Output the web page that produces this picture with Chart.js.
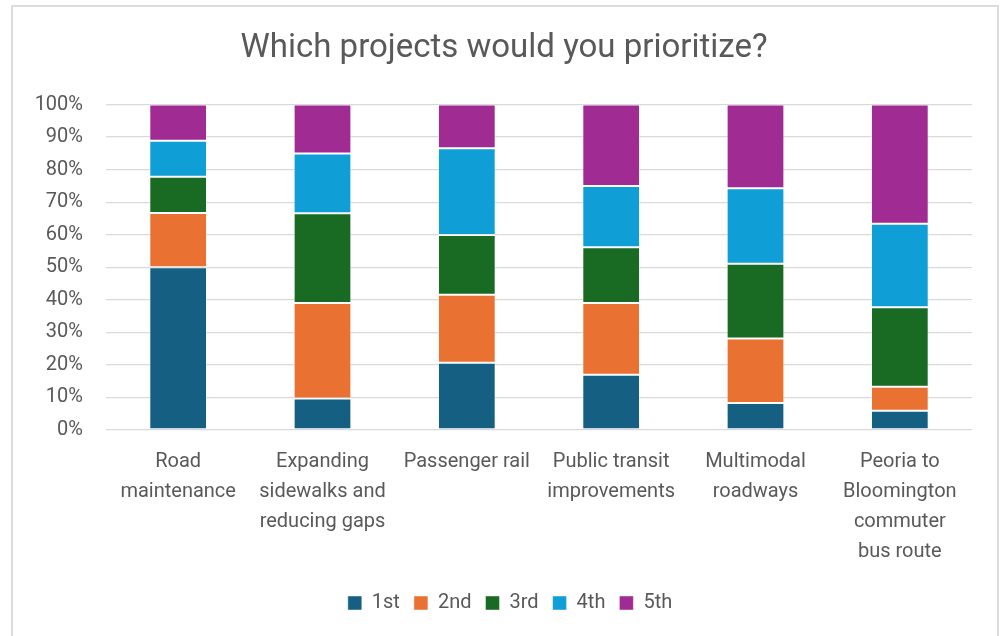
<!DOCTYPE html>
<html>
<head>
<meta charset="utf-8">
<title>Which projects would you prioritize?</title>
<script src="https://cdn.jsdelivr.net/npm/chart.js@4.4.1/dist/chart.umd.min.js"></script>
<style>
  html, body { margin: 0; padding: 0; background: #fff; }
  #wrap { position: relative; width: 1004px; height: 636px; overflow: hidden; }
  #frame {
    position: absolute; left: 11px; top: 5px; width: 988px; height: 660px;
    border: 2px solid #dcdcdc; box-sizing: border-box;
  }
  #chart { position: absolute; left: 0; top: 0; }
</style>
</head>
<body>
<div id="wrap">
  <div id="frame"></div>
  <canvas id="chart" width="1004" height="636"></canvas>
</div>
<script>
// -------- data --------
const projects = [
  ['Road', 'maintenance'],
  ['Expanding', 'sidewalks and', 'reducing gaps'],
  ['Passenger rail'],
  ['Public transit', 'improvements'],
  ['Multimodal', 'roadways'],
  ['Peoria to', 'Bloomington', 'commuter', 'bus route']
];

// share of respondents (%) ranking each project 1st..5th
const rank1 = [50.0,  9.7, 20.7, 17.0,  8.3,  5.9];
const rank2 = [16.7, 29.3, 20.9, 22.0, 19.8,  7.4];
const rank3 = [11.1, 27.6, 18.3, 17.2, 23.0, 24.4];
const rank4 = [11.1, 18.4, 26.7, 18.8, 23.2, 25.7];
const rank5 = [11.1, 15.0, 13.4, 25.0, 25.7, 36.6];

const rankNames  = ['1st', '2nd', '3rd', '4th', '5th'];
const rankColors = ['#156082', '#E97132', '#196B24', '#0F9ED5', '#A02B93'];
const yTicks = [0, 10, 20, 30, 40, 50, 60, 70, 80, 90, 100];

// -------- chart --------
const TEXT = '#595959';
const FONT = 'Roboto, "Liberation Sans", sans-serif';

const datasets = [rank1, rank2, rank3, rank4, rank5].map((vals, i) => ({
  label: rankNames[i],
  data: vals,
  backgroundColor: rankColors[i],
  borderColor: 'rgba(255,255,255,0.45)',
  borderWidth: 1,
  borderSkipped: false,
  barPercentage: 0.4,
  categoryPercentage: 1.0
}));

// nudge the legend a little right of the layout centre
const legendNudge = {
  id: 'legendNudge',
  afterLayout(chart) {
    const lg = chart.legend;
    if (!lg) return;
    lg.left += 6;
    lg.right += 6;
  }
};

new Chart(document.getElementById('chart'), {
  type: 'bar',
  data: { labels: projects, datasets },
  plugins: [legendNudge],
  options: {
    responsive: false,
    animation: false,
    layout: { padding: { left: 36, right: 32, top: 0, bottom: 13 } },
    plugins: {
      title: {
        display: true,
        text: 'Which projects would you prioritize?',
        color: TEXT,
        font: { family: FONT, size: 33, weight: 'normal', lineHeight: 1.2 },
        padding: { top: 29, bottom: 36 }
      },
      legend: {
        position: 'bottom',
        labels: {
          color: TEXT,
          font: { family: FONT, size: 20 },
          boxWidth: 14,
          boxHeight: 14,
          padding: 14
        }
      },
      tooltip: { enabled: false }
    },
    scales: {
      x: {
        stacked: true,
        grid: { display: false },
        border: { display: false },
        ticks: {
          color: TEXT,
          font: { family: FONT, size: 20, lineHeight: 1.5 },
          maxRotation: 0,
          autoSkip: false,
          padding: 9
        },
        afterFit: s => { s.height = 149; }
      },
      y: {
        stacked: true,
        min: 0,
        max: 100,
        afterBuildTicks: s => { s.ticks = yTicks.map(v => ({ value: v })); },
        grid: { color: '#d9d9d9', lineWidth: 1.3, drawTicks: false },
        border: { display: false },
        ticks: {
          color: TEXT,
          font: { family: FONT, size: 20 },
          padding: 23,
          callback: v => v + '%'
        },
        afterFit: s => { s.width = 70; }
      }
    }
  }
});
</script>
</body>
</html>
